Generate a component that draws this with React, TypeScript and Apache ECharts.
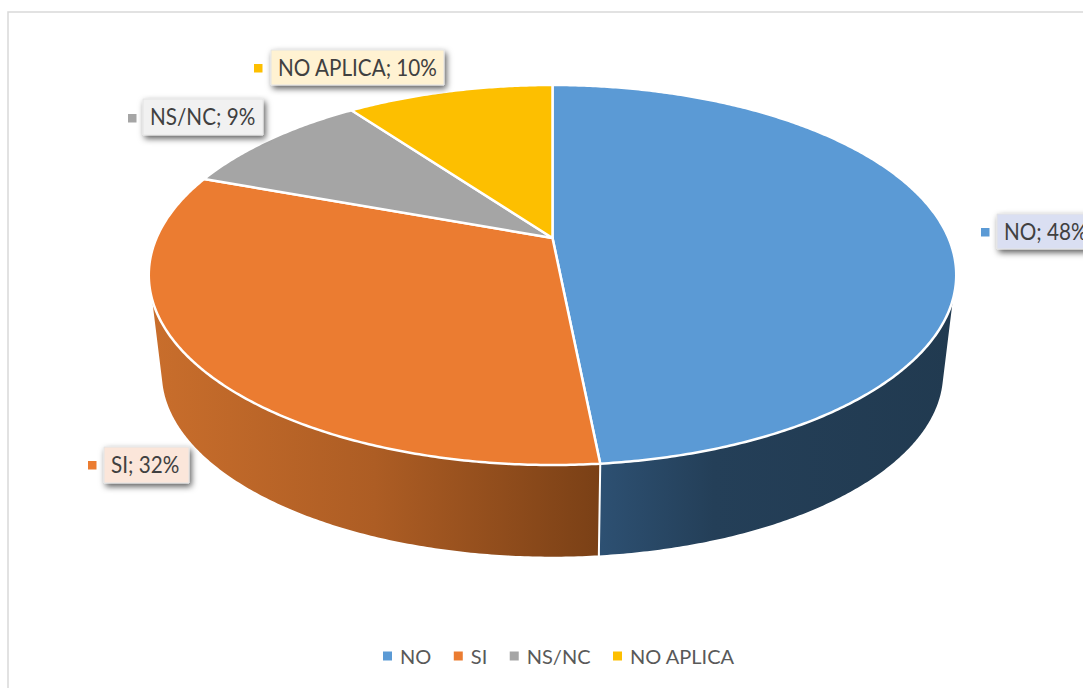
import React, { useEffect, useRef } from "react";
import * as echarts from "echarts";

const categories = ["NO", "SI", "NS/NC", "NO APLICA"];
const shares = [48.45, 32.15, 9.4, 10.0];

const topColors = ["#5b9ad5", "#eb7c31", "#a5a5a5", "#fdbf00"];
const wallStops = [
  [[0, "#2f5478"], [0.12, "#2d5072"], [0.4, "#243f58"], [1, "#213a50"]],
  [[0, "#c96e2c"], [0.5, "#ad5d24"], [1, "#7a4016"]],
  [[0, "#666666"], [1, "#555555"]],
  [[0, "#997400"], [1, "#806000"]],
];
const labelFills = ["#dadff2", "#fbe6da", "#f1f1f1", "#fff2d2"];
// [box x, box y, box w, box h, key x, key y]
const labelBoxes = [
  [997, 214, 104, 35, 981, 228],
  [104, 447, 85, 36, 88, 461],
  [143, 99, 120, 36, 128, 114],
  [271, 50, 173, 35, 254, 64],
];

const FONT = "Lato, Carlito, sans-serif";
const TOTAL = shares.reduce((a, b) => a + b, 0);
const starts = shares.map((_, i) => shares.slice(0, i).reduce((a, b) => a + b, 0));

// Perspective projection of the pie's disc
const CX = 552.5;
const CY = 238;
const RX = 396;
const RY = 182.8;
const P = 0.1947;
const BOTTOM_CY = 337.5;
const BOTTOM_S = 0.97;

function project(deg: number, cy: number, s: number): [number, number] {
  const a = (deg * Math.PI) / 180;
  const u = Math.sin(a);
  const v = -Math.cos(a);
  const w = 1 - P * v;
  return [CX + (s * RX * u) / w, cy + (s * RY * v) / w];
}

function arc(from: number, to: number, cy: number, s: number) {
  const n = Math.max(2, Math.ceil((to - from) * 2));
  const pts: [number, number][] = [];
  for (let i = 0; i <= n; i++) pts.push(project(from + ((to - from) * i) / n, cy, s));
  return pts;
}

function hull(points: [number, number][]) {
  const p = [...points].sort((a, b) => a[0] - b[0] || a[1] - b[1]);
  const cross = (o: number[], a: number[], b: number[]) =>
    (a[0] - o[0]) * (b[1] - o[1]) - (a[1] - o[1]) * (b[0] - o[0]);
  const lo: [number, number][] = [];
  for (const q of p) {
    while (lo.length >= 2 && cross(lo[lo.length - 2], lo[lo.length - 1], q) <= 0) lo.pop();
    lo.push(q);
  }
  const up: [number, number][] = [];
  for (const q of p.reverse()) {
    while (up.length >= 2 && cross(up[up.length - 2], up[up.length - 1], q) <= 0) up.pop();
    up.push(q);
  }
  return lo.slice(0, -1).concat(up.slice(0, -1));
}

function sweep(i: number) {
  return [(starts[i] / TOTAL) * 360, ((starts[i] + shares[i]) / TOTAL) * 360];
}

function renderWall(params: any) {
  const i = params.dataIndex;
  const [a0, a1] = sweep(i);
  const pts = hull([...arc(a0, a1, CY, 1), ...arc(a0, a1, BOTTOM_CY, BOTTOM_S)]);
  return {
    type: "polygon",
    shape: { points: pts },
    style: {
      fill: {
        type: "linear",
        x: 0,
        y: 0,
        x2: 1,
        y2: 0,
        colorStops: wallStops[i].map(([offset, color]) => ({ offset, color })),
      },
      stroke: "#ffffff",
      lineWidth: 2,
      lineJoin: "round",
    },
  };
}

function renderTop(i: number) {
  return () => {
    const [a0, a1] = sweep(i);
    const pts = [[CX, CY], ...arc(a0, a1, CY, 1)];
    const [bx, by, bw, bh, kx, ky] = labelBoxes[i];
    return {
      type: "group",
      children: [
        {
          type: "polygon",
          shape: { points: pts },
          style: { fill: topColors[i], stroke: "#ffffff", lineWidth: 2.5, lineJoin: "round" },
        },
        {
          type: "rect",
          shape: { x: kx, y: ky, width: 8.5, height: 8.5 },
          style: { fill: topColors[i] },
        },
        {
          type: "rect",
          shape: { x: bx, y: by, width: bw, height: bh },
          style: {
            fill: labelFills[i],
            stroke: "#e4e4e4",
            lineWidth: 1,
            shadowBlur: 6,
            shadowOffsetX: 2,
            shadowOffsetY: 3,
            shadowColor: "rgba(0,0,0,0.65)",
          },
        },
        {
          type: "text",
          x: bx + 7,
          y: by + bh / 2,
          scaleX: 0.92,
          style: {
            text: `${categories[i]}; ${Math.round((shares[i] / TOTAL) * 100)}%`,
            x: 0,
            y: 0,
            verticalAlign: "middle",
            align: "left",
            fill: "#404040",
            font: `22.5px ${FONT}`,
          },
        },
      ],
    };
  };
}

export default function App() {
  const ref = useRef<HTMLDivElement>(null);
  useEffect(() => {
    if (!ref.current) return;
    const chart = echarts.init(ref.current, undefined, { renderer: "svg" });
    chart.setOption({
      animation: false,
      backgroundColor: "#ffffff",
      graphic: [
        {
          type: "rect",
          silent: true,
          shape: { x: 8, y: 12, width: 1300, height: 900 },
          style: { fill: "none", stroke: "#d9d9d9", lineWidth: 1.5 },
          z: 0,
        },
      ],
      legend: {
        data: categories,
        left: 378,
        top: 641,
        icon: "rect",
        itemWidth: 9,
        itemHeight: 9,
        itemGap: 22.5,
        selectedMode: false,
        textStyle: { color: "#595959", fontFamily: FONT, fontSize: 20, padding: [0, 0, 0, 3] },
      },
      series: [
        {
          type: "custom",
          name: "wall",
          coordinateSystem: "none",
          silent: true,
          z: 1,
          data: shares,
          renderItem: renderWall,
        },
        ...categories.map((name, i) => ({
          type: "custom",
          name,
          coordinateSystem: "none",
          silent: true,
          z: 2 + i,
          itemStyle: { color: topColors[i] },
          data: [shares[i]],
          renderItem: renderTop(i),
        })),
      ],
    });
    return () => chart.dispose();
  }, []);
  return <div ref={ref} style={{ position: "fixed", left: 0, top: 0, width: 1083, height: 688 }} />;
}
